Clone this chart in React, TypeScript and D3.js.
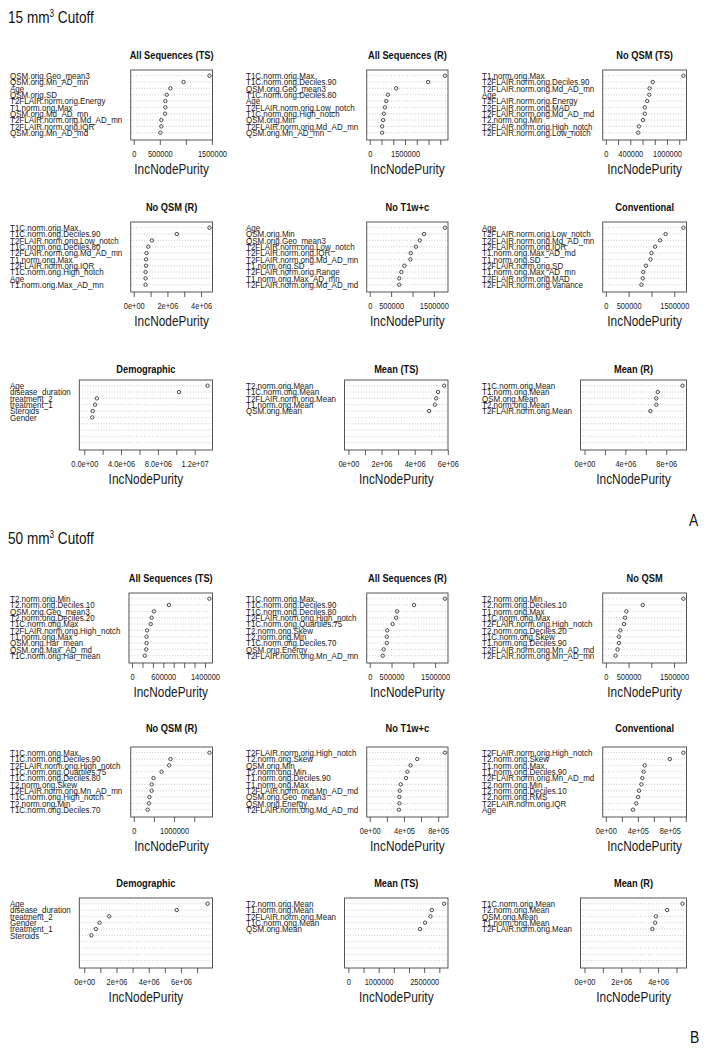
import React, { useEffect, useRef } from "react";
import * as d3 from "d3";

// ---- 15 mm3 cutoff ----
const a1Vars = ["QSM.orig.Geo_mean3", "QSM.orig.Mn_AD_mn", "Age", "QSM.orig.SD", "T2FLAIR.norm.orig.Energy", "T1.norm.orig.Max", "QSM.orig.Md_AD_mn", "T2FLAIR.norm.orig.Md_AD_mn", "T2FLAIR.norm.orig.IQR", "QSM.orig.Mn_AD_md"];
const a1Imp = [1453000, 955000, 703000, 632000, 607000, 607000, 601000, 529000, 529000, 510000];
const a1Ticks = [0, 500000, 1000000, 1500000];
const a1TickLabels = ["0", "500000", "", "1500000"];

const a2Vars = ["T1C.norm.orig.Max", "T1C.norm.orig.Deciles.90", "QSM.orig.Geo_mean3", "T1C.norm.orig.Deciles.80", "Age", "T2FLAIR.norm.orig.Low_notch", "T1C.norm.orig.High_notch", "QSM.orig.Min", "T2FLAIR.norm.orig.Md_AD_mn", "QSM.orig.Mn_AD_mn"];
const a2Imp = [3200000, 2485000, 1126000, 775000, 702000, 643000, 599000, 570000, 526000, 526000];
const a2Ticks = [0, 500000, 1000000, 1500000, 2000000, 2500000, 3000000];
const a2TickLabels = ["0", "", "", "1500000", "", "", ""];

const a3Vars = ["T1.norm.orig.Max", "T2FLAIR.norm.orig.Deciles.90", "T2FLAIR.norm.orig.Md_AD_mn", "Age", "T2FLAIR.norm.orig.Energy", "T2FLAIR.norm.orig.MAD", "T2FLAIR.norm.orig.Md_AD_md", "T2.norm.orig.Min", "T2FLAIR.norm.orig.High_notch", "T2FLAIR.norm.orig.Low_notch"];
const a3Imp = [1268000, 766000, 715000, 710000, 676000, 637000, 637000, 608000, 541000, 530000];
const a3Ticks = [0, 200000, 400000, 600000, 800000, 1000000, 1200000];
const a3TickLabels = ["0", "", "400000", "", "", "1000000", ""];

const a4Vars = ["T1C.norm.orig.Max", "T1C.norm.orig.Deciles.90", "T2FLAIR.norm.orig.Low_notch", "T1C.norm.orig.Deciles.80", "T2FLAIR.norm.orig.Md_AD_mn", "T1.norm.orig.Max", "T2FLAIR.norm.orig.IQR", "T1C.norm.orig.High_notch", "Age", "T1.norm.orig.Max_AD_mn"];
const a4Imp = [4500000, 2560000, 1080000, 860000, 760000, 730000, 730000, 700000, 700000, 700000];
const a4Ticks = [0, 1000000, 2000000, 3000000, 4000000];
const a4TickLabels = ["0e+00", "", "2e+06", "", "4e+06"];

const a5Vars = ["Age", "QSM.orig.Min", "QSM.orig.Geo_mean3", "T2FLAIR.norm.orig.Low_notch", "T2FLAIR.norm.orig.IQR", "T2FLAIR.norm.orig.Md_AD_mn", "T1.norm.orig.SD", "T2FLAIR.norm.orig.Range", "T1.norm.orig.Max_AD_mn", "T2FLAIR.norm.orig.Md_AD_md"];
const a5Imp = [1760000, 1270000, 1170000, 1080000, 960000, 950000, 810000, 740000, 690000, 690000];
const a5Ticks = [0, 500000, 1000000, 1500000];
const a5TickLabels = ["0", "500000", "", "1500000"];

const a6Vars = ["Age", "T2FLAIR.norm.orig.Low_notch", "T2FLAIR.norm.orig.Md_AD_mn", "T2FLAIR.norm.orig.IQR", "T1.norm.orig.Max_AD_md", "T1.norm.orig.SD", "T2FLAIR.norm.orig.SD", "T1.norm.orig.Max_AD_mn", "T2FLAIR.norm.orig.MAD", "T2FLAIR.norm.orig.Variance"];
const a6Imp = [1700000, 1310000, 1190000, 1080000, 1000000, 980000, 880000, 820000, 810000, 780000];
const a6Ticks = [0, 500000, 1000000, 1500000];
const a6TickLabels = ["0", "500000", "", "1500000"];

const a7Vars = ["Age", "disease_duration", "treatment_2", "treatment_1", "Steroids", "Gender"];
const a7Imp = [13400000, 10300000, 1370000, 1180000, 920000, 870000];
const a7Ticks = [0, 2000000, 4000000, 6000000, 8000000, 10000000, 12000000];
const a7TickLabels = ["0.0e+00", "", "4.0e+06", "", "8.0e+06", "", "1.2e+07"];

const a8Vars = ["T2.norm.orig.Mean", "T1C.norm.orig.Mean", "T2FLAIR.norm.orig.Mean", "T1.norm.orig.Mean", "QSM.orig.Mean"];
const a8Imp = [5780000, 5410000, 5300000, 5220000, 4870000];
const a8Ticks = [0, 1000000, 2000000, 3000000, 4000000, 5000000, 6000000];
const a8TickLabels = ["0e+00", "", "2e+06", "", "4e+06", "", "6e+06"];

const a9Vars = ["T1C.norm.orig.Mean", "T1.norm.orig.Mean", "QSM.orig.Mean", "T2.norm.orig.Mean", "T2FLAIR.norm.orig.Mean"];
const a9Imp = [9600000, 7170000, 7030000, 7030000, 6450000];
const a9Ticks = [0, 2000000, 4000000, 6000000, 8000000];
const a9TickLabels = ["0e+00", "", "4e+06", "", "8e+06"];

// ---- 50 mm3 cutoff ----
const b1Vars = ["T2.norm.orig.Min", "T2.norm.orig.Deciles.10", "QSM.orig.Geo_mean3", "T2.norm.orig.Deciles.20", "T1C.norm.orig.Max", "T2FLAIR.norm.orig.High_notch", "T1.norm.orig.Max", "QSM.orig.Har_mean", "QSM.orig.Max_AD_md", "T1C.norm.orig.Har_mean"];
const b1Imp = [1485000, 707000, 419000, 376000, 358000, 288000, 279000, 279000, 271000, 245000];
const b1Ticks = [0, 200000, 400000, 600000, 800000, 1000000, 1200000, 1400000];
const b1TickLabels = ["0", "", "", "600000", "", "", "", "1400000"];

const b2Vars = ["T1C.norm.orig.Max", "T1C.norm.orig.Deciles.90", "T1C.norm.orig.Deciles.80", "T2FLAIR.norm.orig.High_notch", "T1C.norm.orig.Quartiles.75", "T2.norm.orig.Skew", "T2.norm.orig.Min", "T1C.norm.orig.Deciles.70", "QSM.orig.Energy", "T2FLAIR.norm.orig.Mn_AD_mn"];
const b2Imp = [1727000, 1017000, 627000, 606000, 524000, 401000, 391000, 391000, 319000, 298000];
const b2Ticks = [0, 500000, 1000000, 1500000];
const b2TickLabels = ["0", "500000", "", "1500000"];

const b3Vars = ["T2.norm.orig.Min", "T2.norm.orig.Deciles.10", "T1.norm.orig.Max", "T1C.norm.orig.Max", "T2FLAIR.norm.orig.High_notch", "T2.norm.orig.Deciles.20", "T1C.norm.orig.Skew", "T1.norm.orig.Deciles.90", "T2FLAIR.norm.orig.Mn_AD_md", "T2FLAIR.norm.orig.Mn_AD_mn"];
const b3Imp = [1706000, 812000, 452000, 421000, 401000, 319000, 288000, 288000, 257000, 216000];
const b3Ticks = [0, 500000, 1000000, 1500000];
const b3TickLabels = ["0", "500000", "", "1500000"];

const b4Vars = ["T1C.norm.orig.Max", "T1C.norm.orig.Deciles.90", "T2FLAIR.norm.orig.High_notch", "T1C.norm.orig.Quartiles.75", "T1C.norm.orig.Deciles.80", "T2.norm.orig.Skew", "T2FLAIR.norm.orig.Mn_AD_mn", "T1C.norm.orig.High_notch", "T2.norm.orig.Min", "T1C.norm.orig.Deciles.70"];
const b4Imp = [1878000, 911000, 878000, 689000, 489000, 444000, 444000, 389000, 378000, 344000];
const b4Ticks = [0, 500000, 1000000, 1500000];
const b4TickLabels = ["0", "", "1000000", ""];

const b5Vars = ["T2FLAIR.norm.orig.High_notch", "T2.norm.orig.Skew", "QSM.orig.Min", "T2.norm.orig.Min", "T1.norm.orig.Deciles.90", "T1.norm.orig.Max", "T2FLAIR.norm.orig.Mn_AD_md", "QSM.orig.Geo_mean3", "QSM.orig.Energy", "T2FLAIR.norm.orig.Md_AD_md"];
const b5Imp = [880000, 555000, 477000, 440000, 424000, 362000, 351000, 346000, 346000, 341000];
const b5Ticks = [0, 200000, 400000, 600000, 800000];
const b5TickLabels = ["0e+00", "", "4e+05", "", "8e+05"];

const b6Vars = ["T2FLAIR.norm.orig.High_notch", "T2.norm.orig.Skew", "T1.norm.orig.Max", "T1.norm.orig.Deciles.90", "T2FLAIR.norm.orig.Mn_AD_md", "T2.norm.orig.Min", "T2.norm.orig.Deciles.10", "T2.norm.orig.RMS", "T2FLAIR.norm.orig.IQR", "Age"];
const b6Imp = [970000, 800000, 485000, 473000, 456000, 444000, 415000, 404000, 380000, 339000];
const b6Ticks = [0, 200000, 400000, 600000, 800000, 1000000];
const b6TickLabels = ["0e+00", "", "4e+05", "", "8e+05", ""];

const b7Vars = ["Age", "disease_duration", "treatment_2", "Gender", "treatment_1", "Steroids"];
const b7Imp = [7650000, 5740000, 1550000, 950000, 720000, 440000];
const b7Ticks = [0, 1000000, 2000000, 3000000, 4000000, 5000000, 6000000, 7000000];
const b7TickLabels = ["0e+00", "", "2e+06", "", "4e+06", "", "6e+06", ""];

const b8Vars = ["T2.norm.orig.Mean", "T1.norm.orig.Mean", "T2FLAIR.norm.orig.Mean", "T1C.norm.orig.Mean", "QSM.orig.Mean"];
const b8Imp = [3160000, 2754000, 2709000, 2530000, 2366000];
const b8Ticks = [0, 500000, 1000000, 1500000, 2000000, 2500000, 3000000];
const b8TickLabels = ["0", "", "1000000", "", "", "2500000", ""];

const b9Vars = ["T1C.norm.orig.Mean", "T2.norm.orig.Mean", "QSM.orig.Mean", "T1.norm.orig.Mean", "T2FLAIR.norm.orig.Mean"];
const b9Imp = [5330000, 4490000, 3880000, 3840000, 3690000];
const b9Ticks = [0, 1000000, 2000000, 3000000, 4000000, 5000000];
const b9TickLabels = ["0e+00", "", "2e+06", "", "4e+06", ""];

const titlesA = ["All Sequences (TS)", "All Sequences (R)", "No QSM (TS)", "No QSM (R)", "No T1w+c", "Conventional", "Demographic", "Mean (TS)", "Mean (R)"];
const titlesB = ["All Sequences (TS)", "All Sequences (R)", "No QSM", "No QSM (R)", "No T1w+c", "Conventional", "Demographic", "Mean (TS)", "Mean (R)"];

type Panel = { title: string; vars: string[]; imp: number[]; ticks: number[]; tickLabels: string[] };

const panelsA: Panel[] = [
  [a1Vars, a1Imp, a1Ticks, a1TickLabels], [a2Vars, a2Imp, a2Ticks, a2TickLabels], [a3Vars, a3Imp, a3Ticks, a3TickLabels],
  [a4Vars, a4Imp, a4Ticks, a4TickLabels], [a5Vars, a5Imp, a5Ticks, a5TickLabels], [a6Vars, a6Imp, a6Ticks, a6TickLabels],
  [a7Vars, a7Imp, a7Ticks, a7TickLabels], [a8Vars, a8Imp, a8Ticks, a8TickLabels], [a9Vars, a9Imp, a9Ticks, a9TickLabels],
].map((p: any, i) => ({ title: titlesA[i], vars: p[0], imp: p[1], ticks: p[2], tickLabels: p[3] }));

const panelsB: Panel[] = [
  [b1Vars, b1Imp, b1Ticks, b1TickLabels], [b2Vars, b2Imp, b2Ticks, b2TickLabels], [b3Vars, b3Imp, b3Ticks, b3TickLabels],
  [b4Vars, b4Imp, b4Ticks, b4TickLabels], [b5Vars, b5Imp, b5Ticks, b5TickLabels], [b6Vars, b6Imp, b6Ticks, b6TickLabels],
  [b7Vars, b7Imp, b7Ticks, b7TickLabels], [b8Vars, b8Imp, b8Ticks, b8TickLabels], [b9Vars, b9Imp, b9Ticks, b9TickLabels],
].map((p: any, i) => ({ title: titlesB[i], vars: p[0], imp: p[1], ticks: p[2], tickLabels: p[3] }));

// layout
const W = 709, H = 1050;
const SX = 0.82; // the figure is squeezed horizontally
const LABEL_FS = 8.8;
const LABEL_SX = 8 / LABEL_FS; // keeps the row names as wide as in the figure
const FONT = "'Liberation Sans', Arial, Helvetica, sans-serif";
const COL_X = [0, 236, 472];
const BOX_RIGHT = [212.5, 448, 686.5];
const ROW_TOP = [70, 222, 380, 593, 747, 898];
const TITLE_GAP = [11, 11, 7, 11, 15, 11];
const BOX_H = 70;
const N_ROWS = 10;

function squeeze(sel: any, x: number, y: number, sx = SX) {
  sel.attr("transform", "translate(" + x + "," + y + ") scale(" + sx + ",1)");
}

function drawPanel(svg: any, p: Panel, col: number, row: number) {
  const top = ROW_TOP[row];
  const colX = COL_X[col];
  const boxRight = BOX_RIGHT[col];
  const bottom = top + BOX_H;
  const labelX = colX + 10;
  const g = svg.append("g").attr("class", "panel");

  const y = d3.scaleLinear().domain([-0.15, N_ROWS + 0.9]).range([bottom, top]);

  // variable names, left aligned, measured to place the box
  let maxW = 0;
  p.vars.forEach((v, i) => {
    const t = g.append("text")
      .text(v)
      .attr("font-size", LABEL_FS)
      .attr("fill", "#1a1a1a")
      .attr("dy", "0.36em");
    squeeze(t, labelX, y(N_ROWS - i), LABEL_SX);
    maxW = Math.max(maxW, (t.node() as SVGTextElement).getComputedTextLength() * LABEL_SX);
  });
  const boxLeft = labelX + maxW + 8.5;

  const m = d3.max(p.imp) as number;
  const x = d3.scaleLinear().domain([-0.04 * m, 1.04 * m]).range([boxLeft, boxRight]);

  // dotted guide lines
  g.selectAll(".guide")
    .data(d3.range(1, N_ROWS + 1))
    .enter()
    .append("line")
    .attr("x1", boxLeft).attr("x2", boxRight)
    .attr("y1", (d: number) => y(d)).attr("y2", (d: number) => y(d))
    .attr("stroke", "#a8a8a8")
    .attr("stroke-width", 0.7)
    .attr("stroke-dasharray", "0.8,1.9");

  g.append("rect")
    .attr("x", boxLeft).attr("y", top)
    .attr("width", boxRight - boxLeft).attr("height", BOX_H)
    .attr("fill", "none")
    .attr("stroke", "#444")
    .attr("stroke-width", 0.9);

  g.selectAll(".pt")
    .data(p.imp)
    .enter()
    .append("circle")
    .attr("cx", (d: number) => x(d))
    .attr("cy", (_d: number, i: number) => y(N_ROWS - i))
    .attr("r", 1.7)
    .attr("fill", "none")
    .attr("stroke", "#222")
    .attr("stroke-width", 0.8);

  const axis = d3.axisBottom(x)
    .tickValues(p.ticks)
    .tickFormat((_d: any, i: number) => p.tickLabels[i])
    .tickSize(5)
    .tickSizeOuter(0);
  const ax = g.append("g").attr("transform", "translate(0," + bottom + ")").call(axis);
  ax.select(".domain").remove();
  ax.selectAll(".tick line").attr("stroke", "#333").attr("stroke-width", 0.8);
  ax.selectAll(".tick text")
    .attr("font-family", FONT)
    .attr("font-size", 9.1)
    .attr("fill", "#1a1a1a")
    .attr("y", 0).attr("dy", 0)
    .attr("transform", "translate(0,17) scale(" + SX + ",1)");

  const cx = (boxLeft + boxRight) / 2;
  const title = g.append("text")
    .text(p.title)
    .attr("font-size", 11.3)
    .attr("font-weight", "bold")
    .attr("text-anchor", "middle")
    .attr("fill", "#111");
  squeeze(title, cx, top - TITLE_GAP[row]);

  const xlab = g.append("text")
    .text("IncNodePurity")
    .attr("font-size", 14.5)
    .attr("text-anchor", "middle")
    .attr("fill", "#1a1a1a");
  squeeze(xlab, cx, bottom + 33.5);
}

function drawHeader(svg: any, num: string, yBase: number) {
  const t = svg.append("text").attr("font-size", 16.6).attr("fill", "#111");
  t.append("tspan").text(num + " mm");
  t.append("tspan").text("3").attr("font-size", 10).attr("dy", -6.5);
  t.append("tspan").text(" Cutoff").attr("dy", 6.5);
  squeeze(t, 8, yBase);
}

export default function App() {
  const ref = useRef<SVGSVGElement>(null);

  useEffect(() => {
    const svg = d3.select(ref.current);
    svg.selectAll("*").remove();
    svg.attr("font-family", FONT);

    drawHeader(svg, "15", 23);
    drawHeader(svg, "50", 544);

    panelsA.forEach((p, i) => drawPanel(svg, p, i % 3, Math.floor(i / 3)));
    panelsB.forEach((p, i) => drawPanel(svg, p, i % 3, 3 + Math.floor(i / 3)));

    const la = svg.append("text").text("A").attr("font-size", 17).attr("fill", "#111");
    squeeze(la, 689, 526);
    const lb = svg.append("text").text("B").attr("font-size", 17).attr("fill", "#111");
    squeeze(lb, 690, 1043);
  }, []);

  return (
    <svg
      ref={ref}
      width={W}
      height={H}
      style={{ position: "absolute", left: 0, top: 0, background: "#fff" }}
    />
  );
}
